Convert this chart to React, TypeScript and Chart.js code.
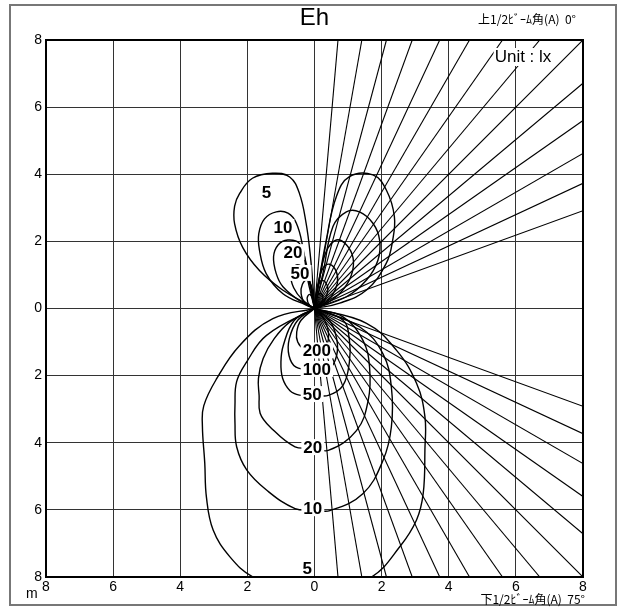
import React, { useEffect, useRef } from 'react';
import { Chart, registerables } from 'chart.js';

Chart.register(...registerables);

type P = [number, number];

// Axis ticks (metres)
const axisTicks = [-8, -6, -4, -2, 0, 2, 4, 6, 8];

// Beam rays (degrees from vertical)
const upperRayAngles = [5, 10, 15, 20, 25, 30, 35, 40, 45, 50, 55, 60, 65, 70];
const lowerRayAngles = [5, 10, 15, 20, 25, 30, 35, 40, 45, 50, 55, 60, 65, 70];

// Upper-left lobes
const upLeft5: P[] = [[0, 0], [-0.25, 0.15], [-0.95, 0.55], [-1.64, 1.13], [-2.14, 1.82], [-2.38, 2.52], [-2.38, 3.05], [-2.23, 3.43], [-1.85, 3.88], [-1.25, 4.03], [-0.74, 3.92], [-0.45, 3.43], [-0.25, 2.54], [-0.12, 1.54], [-0.04, 0.6], [0, 0]];
const upLeft10: P[] = [[0, 0], [-0.25, 0.1], [-0.94, 0.44], [-1.44, 1.04], [-1.64, 1.74], [-1.66, 2.23], [-1.49, 2.67], [-1.14, 2.88], [-0.79, 2.84], [-0.54, 2.54], [-0.35, 1.84], [-0.2, 0.85], [-0.06, 0.25], [0, 0]];
const upLeft20: P[] = [[0, 0], [-0.4, 0.2], [-0.94, 0.65], [-1.14, 1.04], [-1.22, 1.54], [-1.08, 1.9], [-0.8, 2.04], [-0.45, 1.94], [-0.25, 1.35], [-0.1, 0.6], [0, 0]];
const upLeft50: P[] = [[0, 0], [-0.35, 0.25], [-0.62, 0.62], [-0.71, 1.04], [-0.54, 1.3], [-0.28, 1.14], [-0.1, 0.55], [0, 0]];
const upLeft100: P[] = [[0, 0], [-0.28, 0.15], [-0.4, 0.45], [-0.36, 0.72], [-0.23, 0.85], [-0.1, 0.7], [-0.04, 0.35], [0, 0]];
const upLeft200: P[] = [[0, 0], [-0.15, 0.1], [-0.22, 0.3], [-0.15, 0.42], [-0.06, 0.3], [0, 0]];

// Upper-right lobes
const upRight5: P[] = [[0, 0], [0.05, 0.35], [0.35, 2.04], [0.65, 3.33], [1.04, 3.93], [1.74, 3.98], [2.14, 3.53], [2.38, 2.74], [2.33, 2.04], [2.14, 1.35], [1.55, 0.55], [0.75, 0.16], [0, 0]];
const upRight10: P[] = [[0, 0], [0.25, 1.04], [0.55, 2.44], [0.95, 2.88], [1.34, 2.88], [1.74, 2.54], [1.94, 2.04], [1.89, 1.44], [1.55, 0.85], [0.95, 0.35], [0, 0]];
const upRight20: P[] = [[0, 0], [0.15, 0.9], [0.35, 1.7], [0.65, 2.04], [0.95, 1.9], [1.15, 1.5], [1.1, 1.0], [0.8, 0.5], [0.35, 0.15], [0, 0]];
const upRight50: P[] = [[0, 0], [0.1, 0.7], [0.25, 1.2], [0.45, 1.32], [0.65, 1.1], [0.68, 0.75], [0.5, 0.35], [0.2, 0.08], [0, 0]];
const upRight100: P[] = [[0, 0], [0.06, 0.5], [0.18, 0.82], [0.33, 0.78], [0.4, 0.55], [0.3, 0.25], [0.1, 0.05], [0, 0]];
const upRight200: P[] = [[0, 0], [0.05, 0.3], [0.15, 0.45], [0.25, 0.35], [0.2, 0.15], [0, 0]];

// Lower contours
const low5: P[] = [[0, 0], [-1.24, -0.3], [-2.23, -1.1], [-2.92, -2.1], [-3.3, -2.9], [-3.34, -3.5], [-3.27, -4.6], [-3.22, -5.62], [-3.02, -6.6], [-2.52, -7.4], [-1.83, -8.0], [0, -8.7], [1.7, -8.0], [2.54, -7.1], [3.04, -6.3], [3.24, -5.5], [3.29, -4.2], [3.29, -3.22], [3.04, -2.23], [2.44, -1.24], [1.55, -0.44], [0, 0]];
const low10: P[] = [[0, 0], [-1.43, -0.8], [-2.02, -1.59], [-2.32, -2.18], [-2.37, -2.89], [-2.37, -3.4], [-2.32, -4.12], [-2.02, -4.81], [-1.43, -5.41], [-0.58, -5.96], [0, -6.0], [0.46, -6.02], [1.44, -5.52], [2.04, -4.53], [2.29, -3.53], [2.29, -2.34], [2.04, -1.35], [1.35, -0.55], [0, 0]];
const low20: P[] = [[0, 0], [-0.73, -0.4], [-1.2, -0.9], [-1.53, -1.49], [-1.67, -2.08], [-1.65, -2.6], [-1.62, -3.12], [-1.33, -3.52], [-0.58, -4.12], [0, -4.15], [0.41, -4.23], [1.25, -3.64], [1.6, -2.74], [1.64, -1.74], [1.44, -0.94], [0.85, -0.25], [0, 0]];
const low50: P[] = [[0, 0], [-0.6, -0.35], [-0.93, -1.1], [-1.0, -1.59], [-0.95, -2.08], [-0.73, -2.45], [-0.45, -2.58], [0, -2.58], [0.41, -2.59], [0.85, -2.29], [1.04, -1.59], [1.04, -0.94], [0.85, -0.35], [0, 0]];
const low100: P[] = [[0, 0], [-0.5, -0.35], [-0.75, -0.9], [-0.76, -1.4], [-0.55, -1.75], [0, -1.82], [0.45, -1.78], [0.66, -1.4], [0.66, -0.9], [0.45, -0.35], [0, 0]];
const low200: P[] = [[0, 0], [-0.4, -0.35], [-0.53, -0.7], [-0.5, -1.0], [-0.3, -1.22], [0, -1.27], [0.3, -1.2], [0.42, -0.8], [0.3, -0.35], [0, 0]];

const contours: P[][] = [
  upLeft5, upLeft10, upLeft20, upLeft50, upLeft100, upLeft200,
  upRight5, upRight10, upRight20, upRight50, upRight100, upRight200,
  low5, low10, low20, low50, low100, low200,
];

// Contour labels (text, x, y in metres)
const labelTexts = ['5', '10', '20', '50', '200', '100', '50', '20', '10', '5'];
const labelX = [-1.43, -0.94, -0.64, -0.43, 0.07, 0.07, -0.07, -0.05, -0.05, -0.22];
const labelY = [3.47, 2.43, 1.68, 1.06, -1.25, -1.8, -2.55, -4.13, -5.95, -7.74];

function rayEnd(angleDeg: number, up: boolean): P {
  const a = (angleDeg * Math.PI) / 180;
  const dx = Math.sin(a);
  const dy = Math.cos(a);
  const t = Math.min(8 / dx, 8 / dy);
  return [dx * t, (up ? 1 : -1) * dy * t];
}

const decorPlugin = {
  id: 'decor',
  beforeDraw(chart: any) {
    const ctx = chart.ctx;
    ctx.save();
    ctx.fillStyle = '#fff';
    ctx.fillRect(0, 0, chart.width, chart.height);
    ctx.strokeStyle = '#777';
    ctx.lineWidth = 2;
    ctx.strokeRect(10, 5, 606, 600);
    ctx.restore();
  },
  afterDatasetsDraw(chart: any) {
    const ctx = chart.ctx;
    const xs = chart.scales.x;
    const ys = chart.scales.y;
    const ca = chart.chartArea;
    ctx.save();
    ctx.font = 'bold 17px "Liberation Sans", Arial, sans-serif';
    ctx.textAlign = 'center';
    ctx.textBaseline = 'middle';
    labelTexts.forEach((t, i) => {
      const px = xs.getPixelForValue(labelX[i]);
      const py = ys.getPixelForValue(labelY[i]);
      const w = ctx.measureText(t).width;
      ctx.fillStyle = '#fff';
      ctx.fillRect(px - w / 2 - 2, py - 8, w + 4, 16);
      ctx.fillStyle = '#000';
      ctx.fillText(t, px, py + 1);
    });
    // Unit label
    ctx.font = '17px "Liberation Sans", Arial, sans-serif';
    const ux = 523;
    const uy = 57;
    const uw = ctx.measureText('Unit : lx').width;
    ctx.fillStyle = '#fff';
    ctx.fillRect(ux - uw / 2 - 1, uy - 9, uw + 2, 18);
    ctx.fillStyle = '#000';
    ctx.fillText('Unit : lx', ux, uy);
    // plot border
    ctx.strokeStyle = '#000';
    ctx.lineWidth = 2;
    ctx.strokeRect(ca.left, ca.top, ca.right - ca.left, ca.bottom - ca.top);
    ctx.restore();
  },
  afterDraw(chart: any) {
    const ctx = chart.ctx;
    const ca = chart.chartArea;
    ctx.save();
    ctx.fillStyle = '#000';
    ctx.textBaseline = 'middle';
    ctx.textAlign = 'center';
    ctx.font = '24px "Liberation Sans", Arial, sans-serif';
    ctx.fillText('Eh', (ca.left + ca.right) / 2, 18);
    ctx.textAlign = 'right';
    ctx.font = '12px "Noto Sans CJK JP", sans-serif';
    ctx.fillText('上1/2ﾋﾞｰﾑ角(A)  0°', 576, 19);
    ctx.fillText('下1/2ﾋﾞｰﾑ角(A)  75°', 585, 599);
    ctx.textAlign = 'left';
    ctx.font = '14px "Liberation Sans", Arial, sans-serif';
    ctx.fillText('m', 26, 594);
    ctx.restore();
  },
};

export default function App() {
  const ref = useRef<HTMLCanvasElement | null>(null);
  useEffect(() => {
    if (!ref.current) return;
    const datasets: any[] = [];
    upperRayAngles.forEach((a) => {
      const e = rayEnd(a, true);
      datasets.push({ data: [{ x: 0, y: 0 }, { x: e[0], y: e[1] }], tension: 0, borderWidth: 1.1 });
    });
    lowerRayAngles.forEach((a) => {
      const e = rayEnd(a, false);
      datasets.push({ data: [{ x: 0, y: 0 }, { x: e[0], y: e[1] }], tension: 0, borderWidth: 1.1 });
    });
    contours.forEach((c) => {
      datasets.push({ data: c.map(([x, y]) => ({ x, y })), tension: 0.4, borderWidth: 1.4 });
    });
    datasets.forEach((d) => {
      d.showLine = true;
      d.borderColor = '#000';
      d.pointRadius = 0;
      d.fill = false;
    });
    const tickFont = { family: '"Liberation Sans", Arial, sans-serif', size: 14 };
    const chart = new Chart(ref.current, {
      type: 'scatter',
      data: { datasets },
      options: {
        responsive: false,
        animation: false,
        devicePixelRatio: 1,
        layout: { padding: { left: 10, right: 41, top: 40, bottom: 13 } },
        plugins: { legend: { display: false }, tooltip: { enabled: false }, title: { display: false } },
        elements: { line: { capBezierPoints: false } },
        scales: {
          x: {
            type: 'linear',
            min: -8,
            max: 8,
            afterBuildTicks: (s: any) => { s.ticks = axisTicks.map((v) => ({ value: v })); },
            afterFit: (s: any) => { s.height = 20; },
            ticks: { callback: (v: any) => String(Math.abs(Number(v))), color: '#000', font: tickFont, padding: 2, maxRotation: 0, autoSkip: false },
            grid: { color: '#333', lineWidth: 1, drawTicks: false },
            border: { display: false },
          },
          y: {
            type: 'linear',
            min: -8,
            max: 8,
            afterBuildTicks: (s: any) => { s.ticks = axisTicks.map((v) => ({ value: v })); },
            afterFit: (s: any) => { s.width = 36; },
            ticks: { callback: (v: any) => String(Math.abs(Number(v))), color: '#000', font: tickFont, padding: 4, autoSkip: false },
            grid: { color: '#333', lineWidth: 1, drawTicks: false },
            border: { display: false },
          },
        },
      },
      plugins: [decorPlugin],
    });
    return () => chart.destroy();
  }, []);
  return (
    <div style={{ position: 'absolute', left: 0, top: 0, width: 624, height: 610 }}>
      <canvas ref={ref} width={624} height={610} style={{ width: 624, height: 610, display: 'block' }} />
    </div>
  );
}
